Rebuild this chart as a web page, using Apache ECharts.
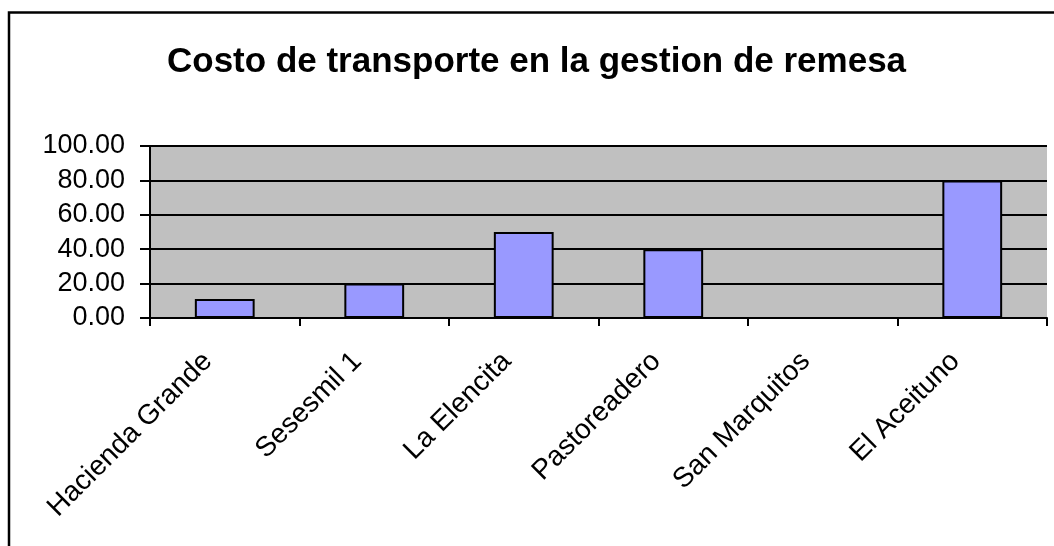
<!DOCTYPE html>
<html>
<head>
<meta charset="utf-8">
<script src="https://cdn.jsdelivr.net/npm/echarts@6/dist/echarts.min.js"></script>
<style>
    html, body { margin: 0; padding: 0; background: #fff; }
    #chart { width: 1054px; height: 546px; }
</style>
</head>
<body>
<div id="chart"></div>
<script>
// datos
const chartTitle = 'Costo de transporte en la gestion de remesa';
const localidades = ['Hacienda Grande', 'Sesesmil 1', 'La Elencita', 'Pastoreadero', 'San Marquitos', 'El Aceituno'];
const costos = [11, 20, 50, 40, 0, 80];

let chart = echarts.init(document.getElementById('chart'));
let option = {
    backgroundColor: '#fff',
    animation: false,
    title: {
        text: chartTitle,
        left: 162,
        top: 40,
        textStyle: {
            fontFamily: 'Liberation Sans, Arial',
            fontSize: 35,
            fontWeight: 'bold',
            color: '#000'
        }
    },
    // marco del grafico (solo se ve arriba e izquierda)
    graphic: [{
        type: 'rect',
        shape: { x: 9, y: 12.5, width: 1200, height: 700 },
        style: { fill: 'none', stroke: '#000', lineWidth: 2.5 },
        silent: true
    }],
    grid: {
        left: 150,
        right: 7,
        top: 146,
        bottom: 228,
        show: true,
        backgroundColor: '#C0C0C0',
        borderWidth: 0
    },
    xAxis: {
        type: 'category',
        data: localidades,
        boundaryGap: true,
        axisLine: { lineStyle: { color: '#000', width: 2 } },
        axisTick: { show: true, length: 8, interval: 0, lineStyle: { color: '#000', width: 2 } },
        axisLabel: {
            interval: 0,
            rotate: 45,
            margin: 22,
            padding: [0, 24, 0, 0],
            fontFamily: 'Liberation Sans, Arial',
            fontSize: 28,
            color: '#000'
        }
    },
    yAxis: {
        type: 'value',
        min: 0,
        max: 100,
        interval: 20,
        axisLine: { show: true, lineStyle: { color: '#000', width: 2 } },
        axisTick: { show: true, length: 10, lineStyle: { color: '#000', width: 2 } },
        splitLine: { lineStyle: { color: '#000', width: 2 } },
        axisLabel: {
            margin: 25,
            fontFamily: 'Liberation Sans, Arial',
            fontSize: 27,
            color: '#000',
            formatter: (value) => value.toFixed(2)
        }
    },
    series: [{
        type: 'bar',
        data: costos,
        barWidth: '40%',
        itemStyle: {
            color: '#9999FF',
            borderColor: '#000',
            borderWidth: 2
        }
    }]
};
chart.setOption(option);
</script>
</body>
</html>
